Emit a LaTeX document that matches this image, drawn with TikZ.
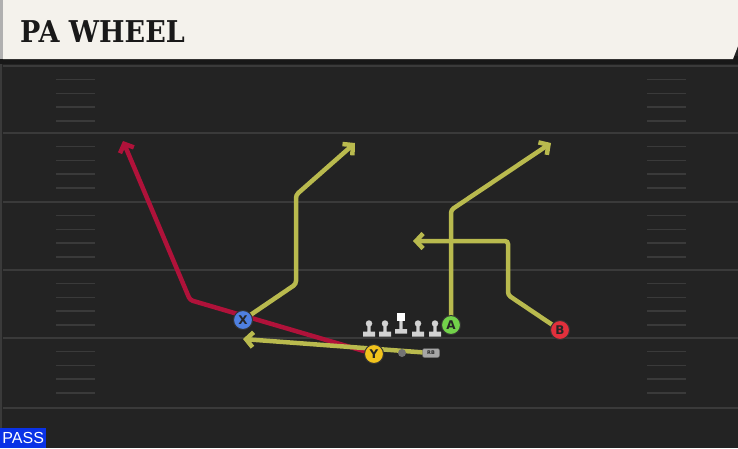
\documentclass[tikz,border=0pt]{standalone}
\usepackage{fontspec}
\setmainfont{DejaVu Sans}
\newfontfamily\titlefont{DejaVu Serif}[FakeStretch=0.9]
\newfontfamily\passfont{Liberation Sans}
\usepackage{xcolor}
\usetikzlibrary{arrows.meta}

\definecolor{fieldbg}{HTML}{232323}
\definecolor{yardgray}{HTML}{3A3A3A}
\definecolor{cream}{HTML}{F4F2EC}
\definecolor{headdark}{HTML}{181818}
\definecolor{headgray}{HTML}{B0B0B0}
\definecolor{routeyellow}{HTML}{B9BA4E}
\definecolor{routered}{HTML}{B0123A}
\definecolor{xblue}{HTML}{4F80E0}
\definecolor{yyellow}{HTML}{F2C31C}
\definecolor{agreen}{HTML}{72D24A}
\definecolor{bred}{HTML}{E2303C}
\definecolor{passblue}{HTML}{0A32E6}
\definecolor{linegray}{HTML}{D2D2D2}

\pgfdeclarelayer{field}
\pgfdeclarelayer{routes}
\pgfsetlayers{field,routes,main}

\begin{document}
\begin{tikzpicture}[x=1pt,y=-1pt]
        \tikzstyle{player}=[circle,draw=black!80,line width=1pt,minimum size=19pt,inner sep=0pt,font=\fontsize{12}{12}\selectfont\bfseries,text=black!85]
        \tikzstyle{route}=[draw=routeyellow,line width=4.5pt,rounded corners=3pt,-{Straight Barb[length=7pt,width=15pt]}]
        \tikzstyle{hot}=[route,draw=routered]
        \tikzstyle{yardline}=[draw=yardgray,line width=2pt]
        \tikzstyle{hash}=[draw=yardgray,line width=1.8pt]
        \tikzstyle{lhead}=[circle,fill=linegray,minimum size=6.5pt,inner sep=0pt]
        \useasboundingbox (0,0) rectangle (738,448);
        \begin{pgfonlayer}{field}
        \fill[fieldbg] (0,0) rectangle (738,448);
        \draw[yardgray,line width=1.5pt] (1,64) -- (1,428);
        % header
        \fill[headdark] (0,56) rectangle (738,64);
        \fill[headgray] (0,0) rectangle (3,59);
        \fill[cream] (3,0) -- (738,0) -- (738,46) -- (733,59) -- (3,59) -- cycle;
        % field
        \foreach \y in {66,133,202,270,338,408}
          \draw[yardline] (3,\y) -- (738,\y);
        \foreach \y in {66,133,202,270,338}
          \foreach \d in {13.5,27.5,41,55} {
            \draw[hash] (56,\y+\d) -- (95,\y+\d);
            \draw[hash] (647,\y+\d) -- (686,\y+\d);
          }
        \end{pgfonlayer}
        \node[anchor=base west,inner sep=0pt,text=black!90,font=\titlefont\bfseries\fontsize{30}{30}\selectfont] (title) at (20,42) {PA WHEEL};
        % line
        \foreach \x/\n in {369/lt,385/lg,418/rg,435/rt} {
          \node[lhead] (\n) at (\x,323.5) {};
          \fill[linegray] (\x-1.7,326) rectangle (\x+1.7,332) (\x-6,331.5) rectangle (\x+6,336.5);
        }
        \node[fill=white,minimum size=8pt,inner sep=0pt] (c) at (401,317) {};
        \fill[linegray] (399.3,321) rectangle (402.7,329.5) (395,329) rectangle (407,333.5);
        % backs and receivers
        \node[circle,fill=black!55,minimum size=8pt,inner sep=0pt] (qb) at (402,353) {};
        \node[rounded corners=2pt,fill=black!35,draw=black!60,minimum width=17pt,minimum height=9pt,inner sep=0pt,font=\fontsize{5}{5}\selectfont\bfseries,text=black!85] (rb) at (431,353) {RB};
        \node[player,fill=xblue] (x) at (243,320) {X};
        \node[player,fill=yyellow] (y) at (374,354) {Y};
        \node[player,fill=agreen] (a) at (451,325) {A};
        \node[player,fill=bred] (b) at (560,330) {B};
        \node[fill=passblue,text=white,anchor=south west,minimum width=46pt,minimum height=20pt,inner sep=0pt,font=\passfont\fontsize{16}{16}\selectfont] (pass) at (0,448) {PASS};
        % routes
        \coordinate (r1) at (190,300);
        \coordinate (r2) at (123,141);
        \coordinate (x1) at (296,284);
        \coordinate (x2) at (296,195);
        \coordinate (x3) at (355,143);
        \coordinate (a1) at (451,210);
        \coordinate (a2) at (551,143);
        \coordinate (b1) at (508,295);
        \coordinate (b2) at (508,241);
        \coordinate (b3) at (413,241);
        \coordinate (rb1) at (243,339);
        \begin{pgfonlayer}{routes}
          \path[hot] (y.center) -- (r1) -- (r2);
          \path[route] (rb.center) -- (rb1);
          \path[route] (x.center) -- (x1) -- (x2) -- (x3);
          \path[route] (a.center) -- (a1) -- (a2);
          \path[route] (b.center) -- (b1) -- (b2) -- (b3);
        \end{pgfonlayer}
\end{tikzpicture}
\end{document}
